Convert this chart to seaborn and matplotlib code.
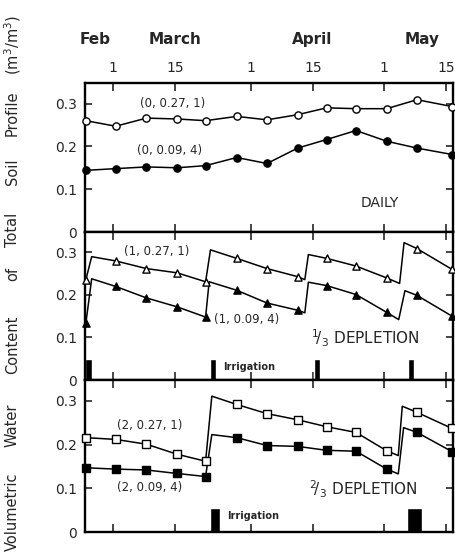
import numpy as np
import pandas as pd
import matplotlib
matplotlib.use("Agg")
import matplotlib.pyplot as plt
from matplotlib.transforms import blended_transform_factory
import seaborn as sns

# Sampling dates (day of year) shared by all three treatments
sample_day = [54.0, 60.7, 67.6, 74.5, 80.9, 87.9, 94.7, 101.6, 108.1, 114.7, 121.6, 128.4, 136.3]

# Daily irrigation
daily_027 = [0.260, 0.247, 0.266, 0.264, 0.260, 0.270, 0.262, 0.274, 0.290, 0.288, 0.288, 0.309, 0.293]
daily_009 = [0.144, 0.148, 0.152, 0.150, 0.155, 0.174, 0.160, 0.196, 0.216, 0.237, 0.212, 0.196, 0.181]

# 1/3 depletion
third_027 = [0.236, 0.280, 0.262, 0.252, 0.231, 0.286, 0.262, 0.243, 0.286, 0.268, 0.240, 0.309, 0.260]
third_009 = [0.134, 0.220, 0.193, 0.172, 0.148, 0.211, 0.181, 0.164, 0.222, 0.201, 0.159, 0.199, 0.150]
third_027_refill_day = [55.3, 82.0, 103.2, 104.0, 124.5, 125.5]
third_027_refill_val = [0.290, 0.306, 0.236, 0.295, 0.227, 0.323]
third_009_refill_day = [55.3, 81.7, 103.2, 104.0, 124.3, 125.7]
third_009_refill_val = [0.238, 0.231, 0.158, 0.230, 0.142, 0.210]
third_irr_day = [54.6, 82.6, 105.9, 127.0]
third_irr_len = [1.5, 1.4, 1.3, 1.3]

# 2/3 depletion
two3_027 = [0.216, 0.212, 0.201, 0.178, 0.162, 0.292, 0.271, 0.257, 0.241, 0.228, 0.186, 0.274, 0.237]
two3_009 = [0.147, 0.144, 0.142, 0.134, 0.127, 0.216, 0.198, 0.196, 0.187, 0.185, 0.144, 0.228, 0.184]
two3_027_refill_day = [82.3, 124.2, 125.1]
two3_027_refill_val = [0.311, 0.175, 0.288]
two3_009_refill_day = [82.3, 124.2, 125.4]
two3_009_refill_val = [0.223, 0.133, 0.239]
two3_irr_day = [83.0, 127.9]
two3_irr_len = [2.2, 3.3]

month_names = ["Feb", "March", "April", "May"]
month_label_day = [56.0, 74.0, 104.8, 129.6]
tick_day = [60, 74, 91, 105, 121, 135]
tick_text = ["1", "15", "1", "15", "1", "15"]
y_ticks = [0, 0.1, 0.2, 0.3]
y_tick_text = ["0", "0.1", "0.2", "0.3"]
ylabel_words = ["Volumetric", "Water", "Content", "of", "Total", "Soil", "Profile",
                "(m$^3$/m$^3$)"]

sns.set_style("ticks")
plt.rcParams["font.family"] = ["DejaVu Sans"]

fig = plt.figure(figsize=(4.55, 5.52), dpi=100)
left, width = 85 / 455, 368 / 455
ax1 = fig.add_axes([left, 1 - 232 / 552, width, 149 / 552])
ax2 = fig.add_axes([left, 1 - 380 / 552, width, 148 / 552])
ax3 = fig.add_axes([left, 1 - 532 / 552, width, 152 / 552])
axes = [ax1, ax2, ax3]


def trace(ax, values, refill_day=None, refill_val=None, marker="o", filled=True):
    pts = pd.DataFrame({"day": sample_day, "wc": values})
    line = pts
    if refill_day is not None:
        line = pd.concat([pts, pd.DataFrame({"day": refill_day, "wc": refill_val})])
        line = line.sort_values("day")
    sns.lineplot(data=line, x="day", y="wc", ax=ax, color="black", lw=1.1,
                 sort=False, estimator=None, zorder=2)
    sns.scatterplot(data=pts, x="day", y="wc", ax=ax, marker=marker, s=27,
                    facecolor="black" if filled else "white", edgecolor="black",
                    linewidth=1.0, zorder=3, clip_on=False)


trace(ax1, daily_027, marker="o", filled=False)
trace(ax1, daily_009, marker="o", filled=True)
trace(ax2, third_027, third_027_refill_day, third_027_refill_val, marker="^", filled=False)
trace(ax2, third_009, third_009_refill_day, third_009_refill_val, marker="^", filled=True)
trace(ax3, two3_027, two3_027_refill_day, two3_027_refill_val, marker="s", filled=False)
trace(ax3, two3_009, two3_009_refill_day, two3_009_refill_val, marker="s", filled=True)

ax2.bar(third_irr_day, 0.05, width=third_irr_len, color="black", zorder=2)
ax3.bar(two3_irr_day, 0.056, width=two3_irr_len, color="black", zorder=2)

for ax in axes:
    ax.set_xlim(53.8, 136.5)
    ax.set_ylim(0, 0.348)
    ax.set_xlabel("")
    ax.set_ylabel("")
    ax.set_xticks(tick_day)
    ax.set_yticks(y_ticks)
    ax.set_yticklabels(y_tick_text)
    ax.tick_params(axis="x", direction="in", top=True, bottom=True,
                   labeltop=False, labelbottom=False, length=6, width=1.2)
    ax.tick_params(axis="y", direction="in", left=True, right=True,
                   length=5, width=1.2, labelsize=10, pad=6)
    for s in ax.spines.values():
        s.set_visible(True)
        s.set_linewidth(1.7)
        s.set_color("black")

ax1.set_xticklabels(tick_text)
ax1.tick_params(axis="x", labeltop=True, labelsize=10, pad=6)

tr = blended_transform_factory(ax1.transData, ax1.transAxes)
for name, d in zip(month_names, month_label_day):
    ax1.text(d, 1.29, name, transform=tr, ha="center", va="center",
             fontsize=11, fontweight="bold", clip_on=False)

lab = dict(fontsize=8.5, ha="center", va="center")
ax1.text(73.4, 0.300, "(0, 0.27, 1)", **lab)
ax1.text(72.9, 0.191, "(0, 0.09, 4)", **lab)
ax1.text(120.1, 0.067, "DAILY", fontsize=10, ha="center", va="center")

ax2.text(69.9, 0.303, "(1, 0.27, 1)", **lab)
ax2.text(90.2, 0.142, "(1, 0.09, 4)", **lab)
ax2.text(116.7, 0.099, r"$^{1}\!/_{3}$ DEPLETION", fontsize=11, ha="center", va="center")
ax2.text(90.6, 0.031, "Irrigation", fontsize=7, fontweight="bold", ha="center", va="center")

ax3.text(68.4, 0.244, "(2, 0.27, 1)", **lab)
ax3.text(68.4, 0.102, "(2, 0.09, 4)", **lab)
ax3.text(116.3, 0.098, r"$^{2}\!/_{3}$ DEPLETION", fontsize=11, ha="center", va="center")
ax3.text(91.5, 0.037, "Irrigation", fontsize=7, fontweight="bold", ha="center", va="center")

# Shared y-axis caption, spread word by word along the full height of the stack
word_centre_px = [512, 425, 345, 274, 230, 172, 113, 45]
for word, yc in zip(ylabel_words, word_centre_px):
    fig.text(0.027, 1 - yc / 552, word, rotation=90, ha="center", va="center",
             fontsize=10.5)

fig.savefig("out.png", dpi=100)
